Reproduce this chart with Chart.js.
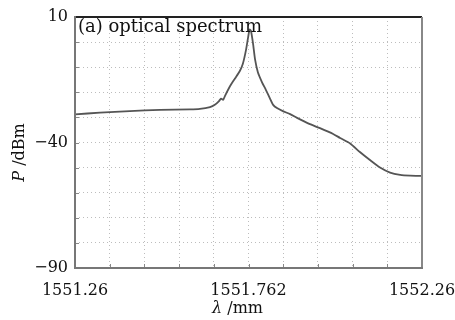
<!DOCTYPE html>
<html>
<head>
<meta charset="utf-8">
<script src="https://cdn.jsdelivr.net/npm/chart.js@4.4.1/dist/chart.umd.min.js"></script>
<style>
html,body{margin:0;padding:0;background:#fff;}
#wrap{width:455px;height:320px;position:relative;}
</style>
</head>
<body>
<div id="wrap"><canvas id="c" width="455" height="320"></canvas></div>
<script>
// wavelength (nm) and optical power (dBm)
const wavelengths = [1551.260,1551.332,1551.418,1551.505,1551.591,1551.620,1551.649,1551.663,1551.675,1551.681,1551.687,1551.692,1551.707,1551.721,1551.735,1551.744,1551.753,1551.759,1551.763,1551.767,1551.773,1551.779,1551.787,1551.799,1551.810,1551.822,1551.831,1551.842,1551.859,1551.880,1551.900,1551.937,1551.966,1552.004,1552.024,1552.053,1552.081,1552.110,1552.139,1552.168,1552.197,1552.226,1552.260];
const powers = [-28.8,-28.1,-27.5,-27.0,-26.8,-26.6,-25.9,-25.0,-23.5,-22.5,-23.0,-21.5,-17.5,-14.5,-11.5,-8.5,-3.0,2.0,5.0,4.5,-0.5,-7.0,-12.0,-16.0,-19.0,-22.5,-25.0,-26.3,-27.5,-28.7,-30.2,-32.7,-34.3,-36.6,-38.2,-40.4,-43.8,-47.0,-50.0,-52.0,-52.9,-53.2,-53.3];
const xGridValues = [1551.26,1551.36,1551.46,1551.56,1551.66,1551.76,1551.86,1551.96,1552.06,1552.16,1552.26];
const xTickLabels = {0:'1551.26',5:'1551.762',10:'1552.26'};
const yTickLabels = {'10':'10','-40':'\u221240','-90':'\u221290'};
const titleText = '(a) optical spectrum';
const xTitle = [['\u03bb','italic'],[' /mm','normal']];
const yTitle = [['P','italic'],[' /dBm','normal']];

const serif = "'DejaVu Serif', 'Liberation Serif', serif";

function drawMixed(ctx, parts, size){
  let total=0;
  parts.forEach(p=>{ ctx.font=p[1]+' '+size+'px '+serif; total+=ctx.measureText(p[0]).width; });
  let x=-total/2;
  parts.forEach(p=>{ ctx.font=p[1]+' '+size+'px '+serif; ctx.fillText(p[0],x,0); x+=ctx.measureText(p[0]).width; });
}

const framePlugin = {
  id:'frame',
  afterDraw(chart){
    const {ctx, chartArea:a, scales} = chart;
    ctx.save();
    // inward ticks
    ctx.strokeStyle='#888'; ctx.lineWidth=1;
    scales.x.ticks.forEach(t=>{
      const px=Math.round(scales.x.getPixelForValue(t.value))+0.5;
      ctx.beginPath(); ctx.moveTo(px,a.bottom); ctx.lineTo(px,a.bottom-4); ctx.stroke();
    });
    scales.y.ticks.forEach(t=>{
      const py=Math.round(scales.y.getPixelForValue(t.value))+0.5;
      ctx.beginPath(); ctx.moveTo(a.left,py); ctx.lineTo(a.left+4,py); ctx.stroke();
    });
    // box
    ctx.lineWidth=2;
    ctx.strokeStyle='#222';
    ctx.beginPath(); ctx.moveTo(a.left,a.top); ctx.lineTo(a.right,a.top); ctx.stroke();
    ctx.strokeStyle='#888';
    ctx.beginPath(); ctx.moveTo(a.right,a.top); ctx.lineTo(a.right,a.bottom); ctx.stroke();
    ctx.strokeStyle='#777';
    ctx.beginPath(); ctx.moveTo(a.left,a.top-1); ctx.lineTo(a.left,a.bottom); ctx.lineTo(a.right+1,a.bottom); ctx.stroke();
    // inner title
    ctx.fillStyle='#111';
    ctx.font='18px '+serif;
    ctx.textBaseline='top';
    ctx.textAlign='left';
    ctx.fillText(titleText, a.left+3, a.top+1);
    // axis titles
    ctx.textBaseline='middle';
    ctx.save();
    ctx.translate((a.left+a.right)/2-11, 309);
    drawMixed(ctx, xTitle, 16);
    ctx.restore();
    ctx.save();
    ctx.translate(20, (a.top+a.bottom)/2+10);
    ctx.rotate(-Math.PI/2);
    drawMixed(ctx, yTitle, 16);
    ctx.restore();
    ctx.restore();
  }
};

new Chart(document.getElementById('c'), {
  type:'scatter',
  data:{datasets:[{
    data: wavelengths.map((w,i)=>({x:w,y:powers[i]})),
    showLine:true,
    borderColor:'#555',
    borderWidth:1.8,
    pointRadius:0,
    tension:0.2,
    fill:false
  }]},
  options:{
    responsive:false,
    animation:false,
    devicePixelRatio:1,
    layout:{padding:{top:17,right:0,left:0,bottom:0}},
    plugins:{legend:{display:false},tooltip:{enabled:false}},
    scales:{
      x:{
        type:'linear',
        min:1551.26,max:1552.26,
        afterBuildTicks(s){ s.ticks = xGridValues.map(v=>({value:v})); },
        afterFit(s){ s.height = 52; s.paddingRight = 33; s.paddingLeft = 0; },
        grid:{color:'#bdbdbd',lineWidth:1,drawTicks:false,tickLength:0},
        border:{display:false, dash:[1,3]},
        ticks:{
          autoSkip:false,maxRotation:0,padding:13,
          color:'#111',font:{family:serif,size:16},
          callback(v,i){ return xTickLabels[i] || ''; }
        },
        title:{display:false}
      },
      y:{
        type:'linear',
        min:-90,max:10,
        ticks:{
          stepSize:10,padding:7,color:'#111',font:{family:serif,size:16},
          callback(v){ return yTickLabels[String(Math.round(v))] || ''; }
        },
        afterFit(s){ s.width = 75; s.paddingTop = 0; s.paddingBottom = 0; },
        grid:{color:'#bdbdbd',lineWidth:1,drawTicks:false,tickLength:0},
        border:{display:false, dash:[1,3]},
        title:{display:false}
      }
    }
  },
  plugins:[framePlugin]
});
</script>
</body>
</html>
